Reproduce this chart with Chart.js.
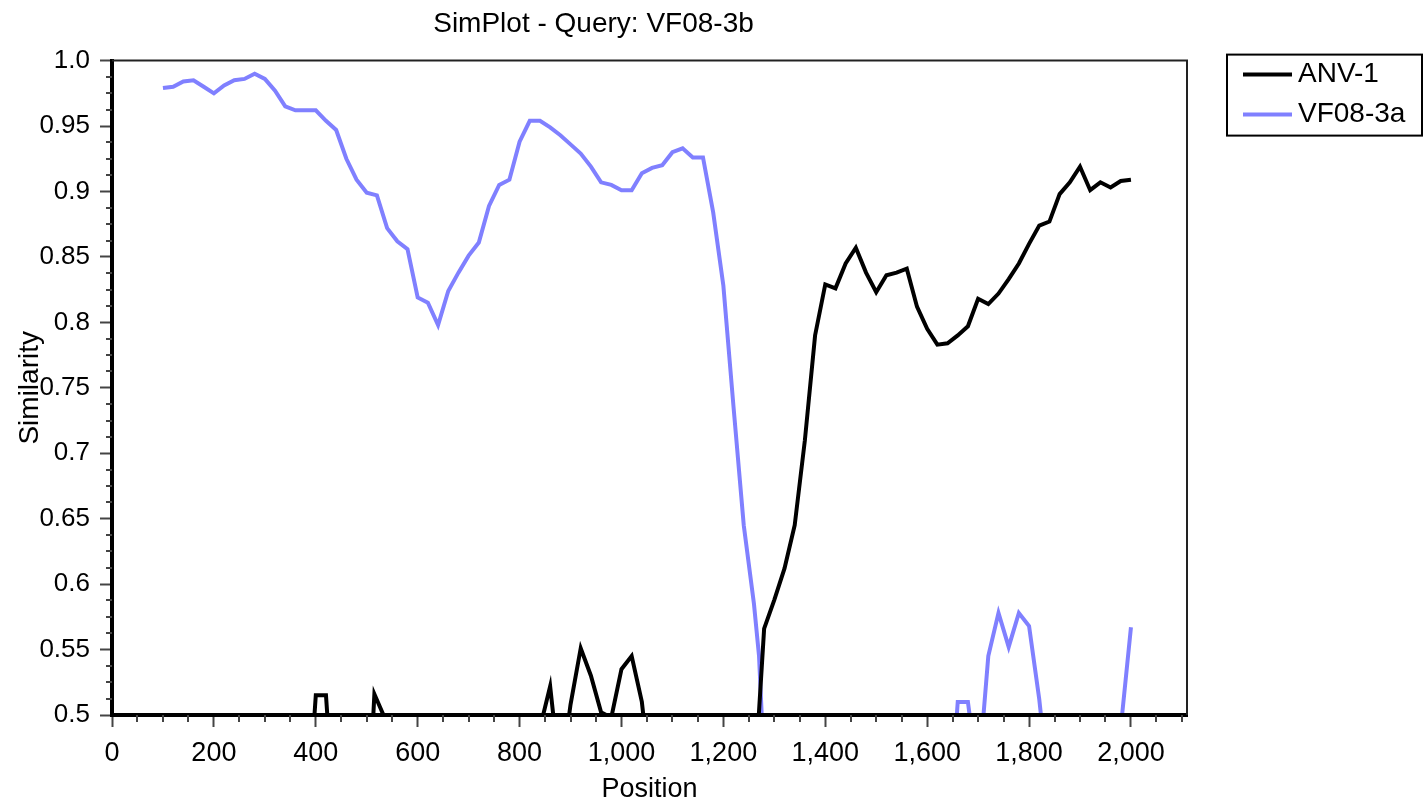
<!DOCTYPE html>
<html>
<head>
<meta charset="utf-8">
<script src="https://cdn.jsdelivr.net/npm/chart.js@4.4.0/dist/chart.umd.min.js"></script>
<style>
  html, body { margin: 0; padding: 0; background: #fff; }
</style>
</head>
<body>
<canvas id="simplot" width="1427" height="809"></canvas>
<script>
// values (window positions, similarity)
// values under 0.5 sit below the axis and are only estimates
const anvPos = [100, 200, 300, 380, 400, 420, 440, 500, 515, 535, 550, 700,
  840, 860, 880, 900, 920, 940, 960, 980, 1000, 1020, 1040, 1060, 1160, 1260, 1280,
  1300, 1320, 1340, 1360, 1380, 1400, 1420, 1440, 1460, 1480, 1500, 1520, 1540, 1560,
  1580, 1600, 1620, 1640, 1660, 1680, 1700, 1720, 1740, 1760, 1780, 1800, 1820, 1840,
  1860, 1880, 1900, 1920, 1940, 1960, 1980, 2000];
const anvSim = [0.44, 0.43, 0.45, 0.40, 0.515, 0.515, 0.40, 0.40, 0.516, 0.498, 0.42, 0.43,
  0.49, 0.522, 0.45, 0.508, 0.551, 0.53, 0.502, 0.498, 0.535, 0.545, 0.51, 0.44, 0.43, 0.44, 0.566,
  0.588, 0.612, 0.645, 0.71, 0.79, 0.829, 0.826, 0.845, 0.857, 0.838, 0.823, 0.836, 0.838, 0.841,
  0.812, 0.795, 0.783, 0.784, 0.79, 0.797, 0.818, 0.814, 0.822, 0.833, 0.845, 0.86, 0.874, 0.877,
  0.898, 0.907, 0.919, 0.901, 0.907, 0.903, 0.908, 0.909];

const vfPos = [100, 120, 140, 160, 180, 200, 220, 240, 260, 280, 300, 320, 340, 360, 380,
  400, 420, 440, 460, 480, 500, 520, 540, 560, 580, 600, 620, 640, 660, 680, 700, 720, 740,
  760, 780, 800, 820, 840, 860, 880, 900, 920, 940, 960, 980, 1000, 1020, 1040, 1060, 1080,
  1100, 1120, 1140, 1160, 1180, 1200, 1220, 1240, 1260, 1270, 1280, 1300, 1400, 1500, 1600,
  1640, 1660, 1680, 1700, 1720, 1740, 1760, 1780, 1800, 1820, 1840, 1900, 1960, 1980, 2000];
const vfSim = [0.979, 0.980, 0.984, 0.985, 0.980, 0.975, 0.981, 0.985, 0.986, 0.990, 0.986,
  0.977, 0.965, 0.962, 0.962, 0.962, 0.954, 0.947, 0.925, 0.909, 0.899, 0.897, 0.872, 0.862,
  0.856, 0.819, 0.815, 0.798, 0.824, 0.838, 0.851, 0.861, 0.889, 0.905, 0.909, 0.938, 0.954,
  0.954, 0.949, 0.943, 0.936, 0.929, 0.919, 0.907, 0.905, 0.901, 0.901, 0.914, 0.918, 0.920,
  0.930, 0.933, 0.926, 0.926, 0.884, 0.828, 0.735, 0.645, 0.585, 0.545, 0.46, 0.40, 0.38, 0.40,
  0.41, 0.40, 0.51, 0.51, 0.45, 0.545, 0.578, 0.552, 0.578, 0.568, 0.512, 0.44, 0.42, 0.40,
  0.49, 0.567];

const seriesNames = ['ANV-1', 'VF08-3a'];
const seriesColors = ['#000000', '#8080ff'];

const X_MAX = 2110;
const X_STEP = 200, X_MINOR = 50;
const Y_MIN = 0.5, Y_MAX = 1.0;
const Y_STEP = 0.05, Y_MINOR = 0.0125;

const FONT = "'Liberation Sans', Arial, sans-serif";
Chart.defaults.font.family = FONT;
Chart.defaults.color = '#000';

function toPoints(pos, sim) {
  return pos.map((p, i) => ({ x: p, y: sim[i] }));
}

// minor ticks, top/right frame and the boxed legend
const simplotExtras = {
  id: 'simplotExtras',
  afterDraw(chart) {
    const { ctx, chartArea: a, scales: { x, y } } = chart;
    ctx.save();
    ctx.strokeStyle = '#222';
    ctx.lineWidth = 2;
    ctx.beginPath();
    ctx.moveTo(a.left, a.top);
    ctx.lineTo(a.right, a.top);
    ctx.lineTo(a.right, a.bottom);
    ctx.stroke();

    ctx.strokeStyle = '#444';
    ctx.beginPath();
    for (let v = 0; v <= X_MAX; v += X_MINOR) {
      if (v % X_STEP === 0) continue;
      const px = Math.round(x.getPixelForValue(v));
      ctx.moveTo(px, a.bottom);
      ctx.lineTo(px, a.bottom + 7);
    }
    const n = Math.round((Y_MAX - Y_MIN) / Y_MINOR);
    for (let i = 1; i < n; i++) {
      if (i % 4 === 0) continue;
      const py = Math.round(y.getPixelForValue(Y_MIN + i * Y_MINOR));
      ctx.moveTo(a.left - 6, py);
      ctx.lineTo(a.left, py);
    }
    ctx.stroke();

    // legend
    const lx = a.right + 40, ly = a.top - 6;
    ctx.strokeStyle = '#000';
    ctx.lineWidth = 2;
    ctx.strokeRect(lx, ly, 195, 81);
    ctx.font = '28px ' + FONT;
    ctx.textBaseline = 'middle';
    chart.data.datasets.forEach((ds, i) => {
      const cy = ly + 20 + i * 40;
      ctx.strokeStyle = ds.borderColor;
      ctx.lineWidth = 4;
      ctx.beginPath();
      ctx.moveTo(lx + 16, cy);
      ctx.lineTo(lx + 65, cy);
      ctx.stroke();
      ctx.fillStyle = '#000';
      ctx.fillText(ds.label, lx + 71, cy);
    });
    ctx.restore();
  }
};

const config = {
  type: 'line',
  data: {
    datasets: [
      {
        label: seriesNames[0],
        data: toPoints(anvPos, anvSim),
        borderColor: seriesColors[0],
        backgroundColor: seriesColors[0],
        borderWidth: 4,
        pointRadius: 0,
        tension: 0,
        clip: 0
      },
      {
        label: seriesNames[1],
        data: toPoints(vfPos, vfSim),
        borderColor: seriesColors[1],
        backgroundColor: seriesColors[1],
        borderWidth: 4,
        pointRadius: 0,
        tension: 0,
        clip: 0
      }
    ]
  },
  options: {
    responsive: false,
    animation: false,
    layout: { padding: { left: 0, right: 240, top: 0, bottom: 0 } },
    plugins: {
      legend: { display: false },
      tooltip: { enabled: false },
      title: {
        display: true,
        text: 'SimPlot - Query: VF08-3b',
        font: { size: 28, weight: 'normal' },
        color: '#000',
        padding: { top: 7, bottom: 20 }
      }
    },
    scales: {
      x: {
        type: 'linear',
        min: 0,
        max: X_MAX,
        afterFit(scale) { scale.height = 94; },
        ticks: {
          stepSize: X_STEP,
          includeBounds: false,
          maxRotation: 0,
          autoSkip: false,
          font: { size: 27 },
          color: '#000',
          padding: 10
        },
        grid: { drawOnChartArea: false, tickLength: 12, tickWidth: 2, tickColor: '#444' },
        border: { color: '#000', width: 4, z: 1 },
        title: { display: true, text: 'Position', font: { size: 27 }, color: '#000', padding: { top: 0, bottom: 3 } }
      },
      y: {
        min: Y_MIN,
        max: Y_MAX,
        afterFit(scale) { scale.width = 112; },
        ticks: {
          stepSize: Y_STEP,
          font: { size: 26 },
          color: '#000',
          padding: 10,
          callback: v => (v === 1 ? '1.0' : String(+v.toFixed(2)))
        },
        grid: { drawOnChartArea: false, tickLength: 12, tickWidth: 2, tickColor: '#444' },
        border: { color: '#000', width: 4, z: 1 },
        title: { display: true, text: 'Similarity', font: { size: 28 }, color: '#000', padding: { top: 13, bottom: 0 } }
      }
    }
  },
  plugins: [simplotExtras]
};

const simChart = new Chart(document.getElementById('simplot'), config);
</script>
</body>
</html>
